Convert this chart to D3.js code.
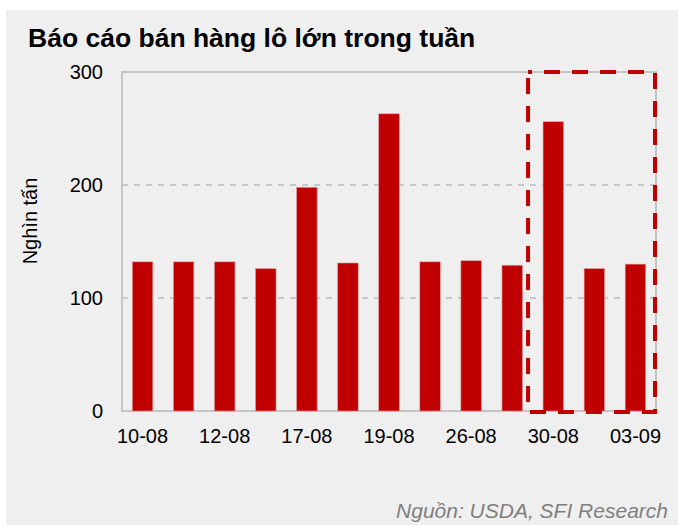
<!DOCTYPE html>
<html>
<head>
<meta charset="utf-8">
<script src="https://cdn.jsdelivr.net/npm/d3@7"></script>
<style>
  body { margin: 0; background: #fff; }
  text { font-family: "Liberation Sans", Arial, sans-serif; }
</style>
</head>
<body>
<script>
// Weekly large-lot sales report, thousand tonnes
var weeks = ['10-08', '11-08', '12-08', '13-08', '17-08', '18-08', '19-08',
             '20-08', '26-08', '27-08', '30-08', '31-08', '03-09'];
var shownLabels = ['10-08', '12-08', '17-08', '19-08', '26-08', '30-08', '03-09'];
var sales = [132, 132, 132, 126, 198, 131, 263, 132, 133, 129, 256, 126, 130];
var yTicks = [0, 100, 200, 300];
var highlightWeeks = ['30-08', '31-08', '03-09'];

var width = 678, height = 525,
    margin = { top: 72, right: 22, bottom: 114, left: 122 };

var svg = d3.select('body').append('svg')
  .attr('width', width)
  .attr('height', height);

// grey panel
svg.append('rect')
  .attr('x', 6).attr('y', 10)
  .attr('width', width - 6).attr('height', height - 10)
  .attr('fill', '#efefef');

var innerW = width - margin.left - margin.right,
    innerH = height - margin.top - margin.bottom;

var x = d3.scaleBand().domain(weeks).range([0, innerW]).paddingInner(0.5).paddingOuter(0.25),
    y = d3.scaleLinear().domain([0, 300]).range([innerH, 0]);

var g = svg.append('g').attr('transform', 'translate(' + margin.left + ',' + margin.top + ')');

// dashed gridlines
g.selectAll('.grid').data(yTicks.filter(function (d) { return d > 0 && d < 300; }))
  .enter().append('line')
  .attr('x1', 0).attr('x2', innerW)
  .attr('y1', function (d) { return y(d); }).attr('y2', function (d) { return y(d); })
  .attr('stroke', '#c8c8c8').attr('stroke-width', 2).attr('stroke-dasharray', '6,6');

// plot frame
g.append('rect')
  .attr('x', 0).attr('y', 0).attr('width', innerW).attr('height', innerH)
  .attr('fill', 'none').attr('stroke', '#c4c4c4').attr('stroke-width', 2);

// bars
g.selectAll('.bar').data(sales).enter().append('rect')
  .attr('x', function (d, i) { return x(weeks[i]); })
  .attr('y', function (d) { return y(d); })
  .attr('width', x.bandwidth())
  .attr('height', function (d) { return innerH - y(d); })
  .attr('fill', '#c00000')
  .attr('stroke', '#e0a0a0').attr('stroke-width', 0.6);

// y axis labels
var yAxis = g.append('g').call(d3.axisLeft(y).tickValues(yTicks).tickSize(0).tickPadding(19));
yAxis.select('.domain').remove();
yAxis.selectAll('text').attr('font-size', 20).attr('fill', '#000')
  .attr('font-family', '"Liberation Sans", Arial, sans-serif');

// x axis labels
var xAxis = g.append('g').attr('transform', 'translate(0,' + innerH + ')')
  .call(d3.axisBottom(x).tickValues(shownLabels).tickSize(0).tickPadding(18));
xAxis.select('.domain').remove();
xAxis.selectAll('text').attr('font-size', 20).attr('fill', '#000')
  .attr('font-family', '"Liberation Sans", Arial, sans-serif');

// highlight box round the last weeks
var gap = x.step() - x.bandwidth(),
    hx0 = x(highlightWeeks[0]) - gap * 0.73,
    hx1 = innerW - 1;
g.append('rect')
  .attr('x', hx0).attr('y', y(300))
  .attr('width', hx1 - hx0).attr('height', y(0) - y(300) + 1)
  .attr('fill', 'none').attr('stroke', '#c00000')
  .attr('stroke-width', 4).attr('stroke-dasharray', '16,12').attr('stroke-dashoffset', 12);

// y title
svg.append('text')
  .attr('transform', 'translate(37,221) rotate(-90)')
  .attr('text-anchor', 'middle')
  .attr('font-size', 20)
  .text('Nghìn tấn');

// chart title
svg.append('text')
  .attr('x', 28).attr('y', 47)
  .attr('font-size', 26.5).attr('font-weight', 'bold')
  .text('Báo cáo bán hàng lô lớn trong tuần');

// source
svg.append('text')
  .attr('x', 668).attr('y', 518)
  .attr('text-anchor', 'end')
  .attr('font-size', 21).attr('font-style', 'italic')
  .attr('fill', '#7f7f7f')
  .text('Nguồn: USDA, SFI Research');
</script>
</body>
</html>
